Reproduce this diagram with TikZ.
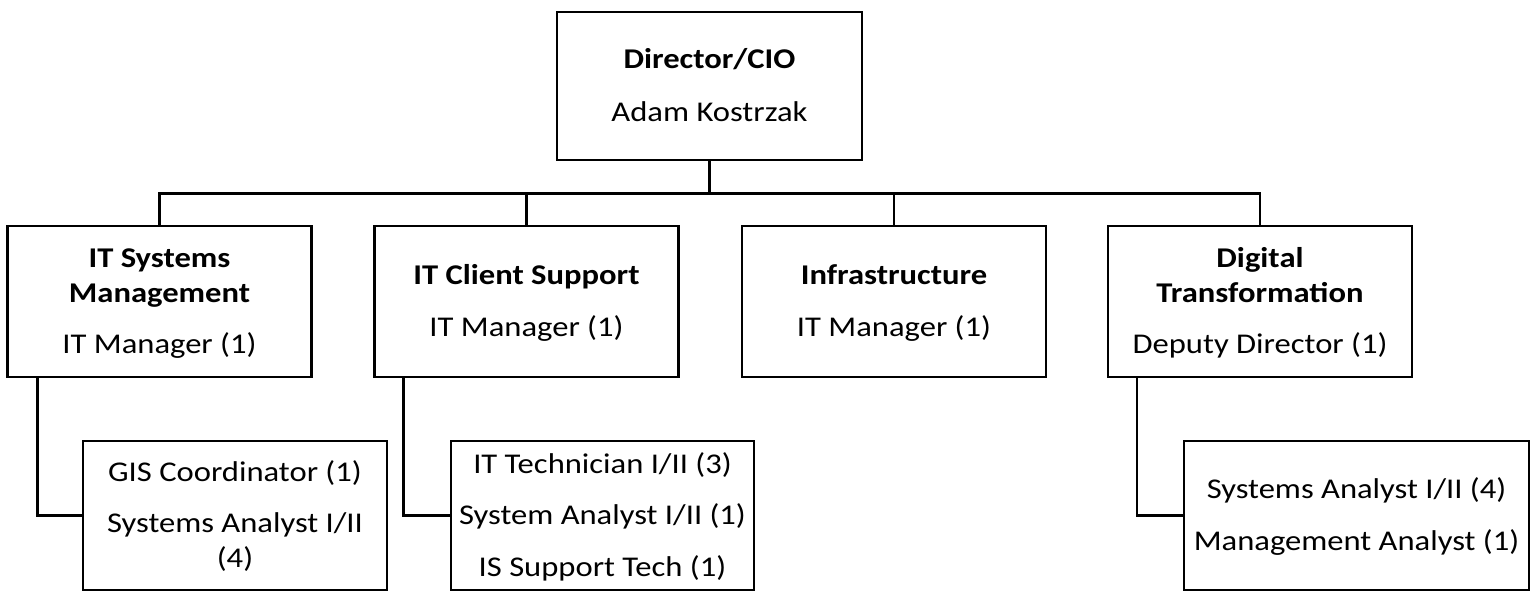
\documentclass[tikz,border=0pt]{standalone}
\usepackage{fontspec}
\setmainfont{Carlito}[FakeStretch=1.14]
\newcommand\lstrut{\rule[-8pt]{0pt}{34.4pt}}
\tikzset{
  box/.style={draw=black, line width=2.4pt, inner sep=0pt, align=center,
    font=\fontsize{28.6}{35}\selectfont, minimum width=304pt},
  lvltwo/.style={box, minimum height=151pt},
  lvlthree/.style={box, minimum height=149pt},
  conn/.style={draw=black, line width=2.4pt}
}
\begin{document}
\begin{tikzpicture}[x=1pt,y=-1pt]
\useasboundingbox (0,0) rectangle (1536,592);
\fill[white] (0,0) rectangle (1536,592);

\node[box, minimum width=305pt, minimum height=148pt] (dir) at (709.5,86)
  {\lstrut\textbf{Director/CIO}\\[18pt]Adam Kostrzak\lstrut};

\node[lvltwo] (b1) at (159.5,301.5)
  {\lstrut\textbf{IT Systems}\\\textbf{Management}\\[16.5pt]IT Manager (1)\lstrut};
\node[lvltwo] (b2) at (526.5,301.5)
  {\lstrut\textbf{IT Client Support}\\[16.5pt]IT Manager (1)\lstrut};
\node[lvltwo] (b3) at (894,301.5)
  {\lstrut\textbf{Infrastructure}\\[16.5pt]IT Manager (1)\lstrut};
\node[lvltwo] (b4) at (1260,301.5)
  {\lstrut\textbf{Digital}\\\textbf{Transformation}\\[16.5pt]Deputy Director (1)\lstrut};

\node[lvlthree] (c1) at (235,515.5)
  {\lstrut GIS Coordinator (1)\\[16.5pt]Systems Analyst I/II\\(4)\lstrut};
\node[lvlthree, minimum width=303pt] (c2) at (602.5,515.5)
  {\lstrut IT Technician I/II (3)\\[16.5pt]System Analyst I/II (1)\\[16.5pt]IS Support Tech (1)\lstrut};
\node[lvlthree, minimum width=345pt] (c4) at (1356.5,515.5)
  {\lstrut Systems Analyst I/II (4)\\[16.5pt]Management Analyst (1)\lstrut};

\coordinate (bus) at (709.5,193.5);
\draw[conn] (dir.south) -- (bus);
\draw[conn] (b1.north) -- (b1.north |- bus) -- (b4.north |- bus) -- (b4.north);
\draw[conn] (b2.north) -- (b2.north |- bus);
\draw[conn] (b3.north) -- (b3.north |- bus);

\draw[conn] ([xshift=31pt]b1.south west) |- (c1.west);
\draw[conn] ([xshift=30pt]b2.south west) |- (c2.west);
\draw[conn] ([xshift=30pt]b4.south west) |- (c4.west);
\end{tikzpicture}
\end{document}
